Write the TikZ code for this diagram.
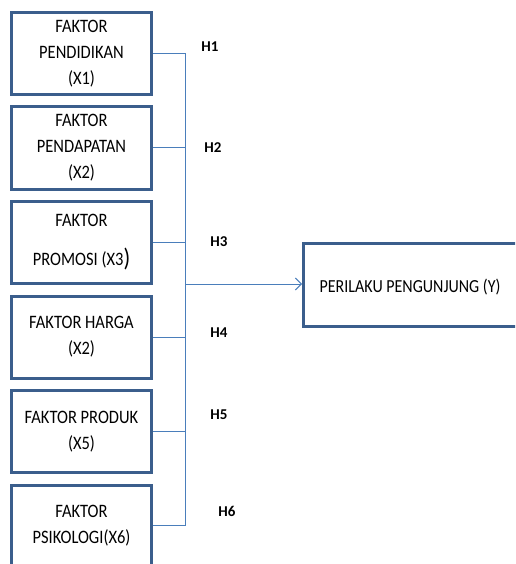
\documentclass[tikz,border=0pt]{standalone}
\usepackage{fontspec}
\usepackage{graphicx}
\setmainfont{Carlito}
\usetikzlibrary{arrows.meta}
\definecolor{boxblue}{HTML}{3B5E8C}
\definecolor{linkblue}{HTML}{4A7EBB}
\newcommand{\tl}[1]{\scalebox{1}[1.15]{#1}}
\tikzset{
  factor/.style={draw=boxblue, line width=3pt, minimum width=140pt, minimum height=82pt,
    align=center, inner sep=0pt, font=\fontsize{16.5}{26}\selectfont},
  link/.style={draw=linkblue, line width=1pt},
  hlabel/.style={font=\fontsize{15}{18}\selectfont\bfseries, inner sep=0pt},
}
\begin{document}
\begin{tikzpicture}[x=1pt,y=-1pt]
\useasboundingbox (0,0) rectangle (515,564);
\clip (0,0) rectangle (515,564);
\node[factor] (f1) at (81.5,53.5) {\tl{FAKTOR}\\\tl{PENDIDIKAN}\\\tl{(X1)}};
\node[factor] (f2) at (81.5,148) {\tl{FAKTOR}\\\tl{PENDAPATAN}\\\tl{(X2)}};
\node[factor, font=\fontsize{16.5}{39}\selectfont] (f3) at (81.5,242.5) {\tl{FAKTOR}\\\tl{PROMOSI (X3}{\fontsize{22}{22}\selectfont\raisebox{-1pt}{\tl{)}}}};
\node[factor] (f4) at (81.5,337) {\tl{FAKTOR HARGA}\\\tl{(X2)}};
\node[factor] (f5) at (81.5,431.5) {\tl{FAKTOR PRODUK}\\\tl{(X5)}};
\node[factor] (f6) at (81.5,526) {\tl{FAKTOR}\\\tl{PSIKOLOGI(X6)}};
\node[factor, minimum width=240pt, minimum height=83pt, anchor=west] (y) at (302,284.5) {};
\node at (410,287) {\fontsize{16}{20}\selectfont\tl{PERILAKU PENGUNJUNG (Y)}};
\coordinate (top) at (185,53.5);
\coordinate (bot) at (185,525);
\coordinate (mid) at (185,284);
\draw[link] (f1.east) -- (top) -- (bot) -- (f6.east |- bot);
\draw[link] (f2.east) -- (f2.east -| top);
\draw[link] (f3.east) -- (f3.east -| top);
\draw[link] (f4.east) -- (f4.east -| top);
\draw[link] (f5.east) -- (f5.east -| top);
\draw[link, -{Straight Barb[length=6pt, width=12pt, line width=1pt]}] (mid) -- (mid -| y.west);
\node[hlabel] (h1) at (210,47) {H1};
\node[hlabel] (h2) at (213,148) {H2};
\node[hlabel] (h3) at (219,242) {H3};
\node[hlabel] (h4) at (219,333) {H4};
\node[hlabel] (h5) at (219,415) {H5};
\node[hlabel] (h6) at (227,511) {H6};
\end{tikzpicture}
\end{document}
